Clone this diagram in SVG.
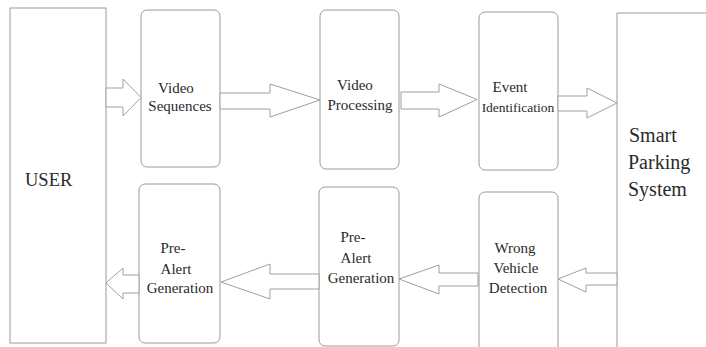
<svg xmlns="http://www.w3.org/2000/svg" width="706" height="347" viewBox="0 0 706 347">
<style>
.box{fill:#fff;stroke:#9a9a9a;stroke-width:1}
.arr{fill:#fff;stroke:#a0a0a0;stroke-width:1}
.t{font-family:"Liberation Serif","Times New Roman",serif;fill:#2a2a2a;text-anchor:middle;font-size:15px}
.big{font-family:"Liberation Serif","Times New Roman",serif;fill:#2a2a2a;font-size:20px}
</style>
<rect width="706" height="347" fill="#fff"/>
<g id="user">
<rect class="box" x="10" y="8" width="96" height="335"/>
<text class="big" x="25" y="186" style="font-size:18.5px">USER</text>
</g>
<g id="video-sequences">
<rect class="box" x="141" y="10" width="79" height="157" rx="6"/>
<text class="t" x="176" y="93">Video</text>
<text class="t" x="180" y="111">Sequences</text>
</g>
<g id="video-processing">
<rect class="box" x="320" y="10" width="79" height="159" rx="6"/>
<text class="t" x="355" y="90">Video</text>
<text class="t" x="360" y="110">Processing</text>
</g>
<g id="event-identification">
<rect class="box" x="479" y="12" width="79" height="158" rx="6"/>
<text class="t" x="510" y="92">Event</text>
<text class="t" x="518" y="112" style="font-size:13.5px">Identification</text>
</g>
<g id="smart-parking-system">
<path class="box" d="M707,13 H617 V348" fill="none"/>
<text class="big" x="629" y="142">Smart</text>
<text class="big" x="628" y="169">Parking</text>
<text class="big" x="628" y="196">System</text>
</g>
<g id="pre-alert-left">
<rect class="box" x="139" y="184" width="81" height="159" rx="6"/>
<text class="t" x="173" y="253">Pre-</text>
<text class="t" x="176" y="274">Alert</text>
<text class="t" x="180" y="293">Generation</text>
</g>
<g id="pre-alert-mid">
<rect class="box" x="319" y="187" width="80" height="159" rx="6"/>
<text class="t" x="353" y="242">Pre-</text>
<text class="t" x="356" y="263">Alert</text>
<text class="t" x="361" y="283">Generation</text>
</g>
<g id="wrong-vehicle-detection">
<rect class="box" x="479" y="192" width="79" height="165" rx="6"/>
<text class="t" x="515" y="253">Wrong</text>
<text class="t" x="516" y="273">Vehicle</text>
<text class="t" x="518" y="293">Detection</text>
</g>
<g id="connectors">
<polygon class="arr" points="106,88 123,88 123,79 141,97.5 123,116 123,107 106,107"/>
<polygon class="arr" points="220,93 270,93 270,84 320,100 270,117 270,109 220,109"/>
<polygon class="arr" points="401,92 439,92 439,84 477,99.5 439,117 439,109 401,109"/>
<polygon class="arr" points="558,96 587,96 587,88 617,103 587,118 587,111 558,111"/>
<polygon class="arr" points="617,273 586,273 586,268 558,279 586,292 586,285 617,285"/>
<polygon class="arr" points="478,273 439,273 439,265 399,279 439,294 439,286 478,286"/>
<polygon class="arr" points="319,274 270,274 270,264 221,282 270,299 270,289 319,289"/>
<polygon class="arr" points="139,275 123,275 123,268 106,283 123,299 123,293 139,293"/>
</g>
</svg>
